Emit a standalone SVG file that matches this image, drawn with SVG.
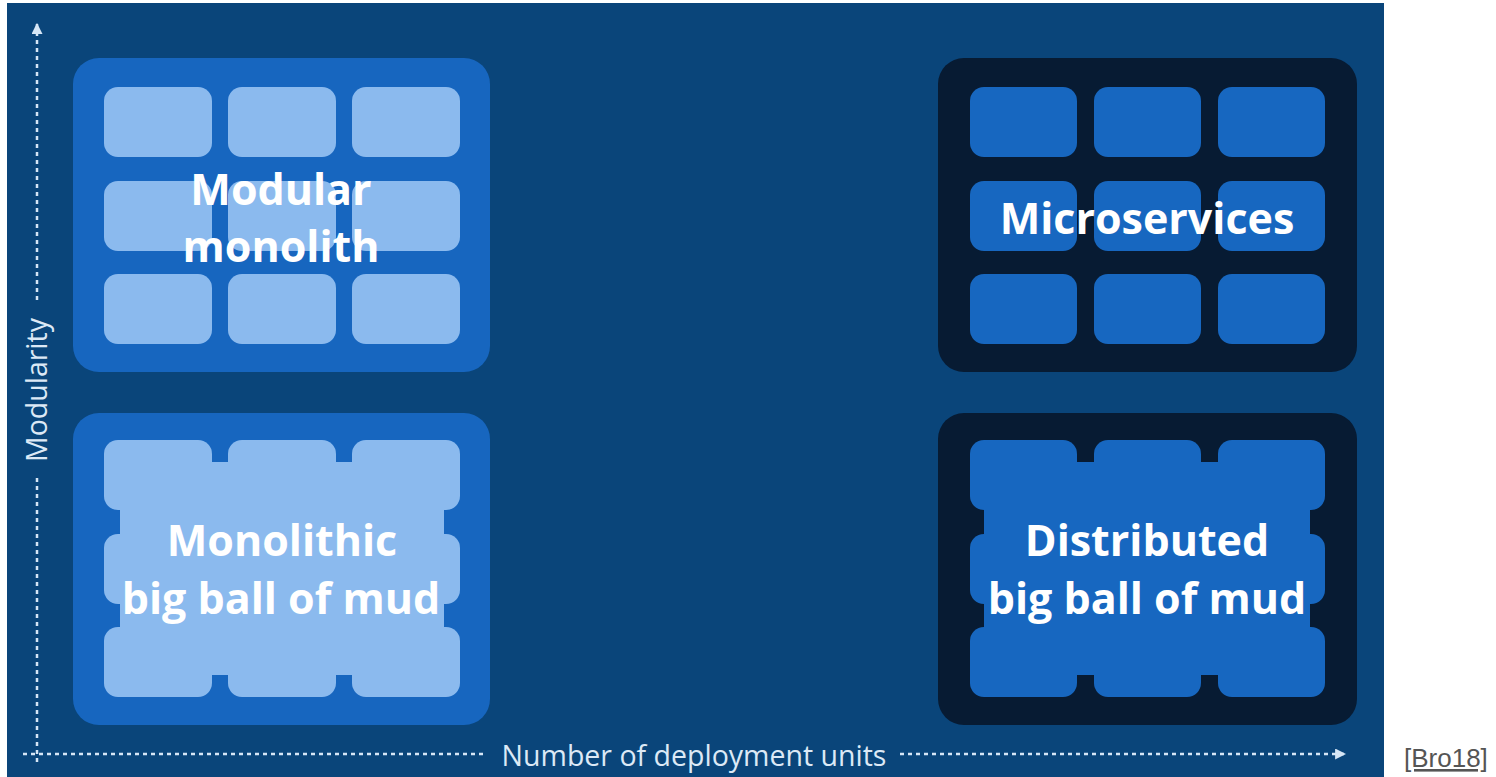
<svg xmlns="http://www.w3.org/2000/svg" width="1496" height="777" viewBox="0 0 1496 777">
  <defs>
    <style>
      .panel-light { fill: #1766bf; }
      .panel-dark { fill: #071b33; }
      .tile-light { fill: #8bbaee; }
      .tile-dark { fill: #1767c0; }
      .label { font-family: "Open Sans", "Liberation Sans", sans-serif; font-weight: 700; font-size: 43px; fill: #ffffff; text-anchor: middle; }
      .axis { stroke: #d6e6f6; stroke-width: 2.5; stroke-dasharray: 4 4; fill: none; }
      .axis-label { font-family: "Open Sans", "Liberation Sans", sans-serif; font-size: 28.5px; fill: #dce9f6; text-anchor: middle; }
      .cite { font-family: "Liberation Sans", Arial, sans-serif; font-size: 26px; fill: #555555; text-decoration: underline; }
    </style>
    <marker id="arrow" viewBox="0 0 10 10" refX="9" refY="5" markerWidth="4.4" markerHeight="4.4" orient="auto" markerUnits="strokeWidth">
      <path d="M0,0 L10,5 L0,10 Z" fill="#d6e6f6"/>
    </marker>
  </defs>

  <!-- background plate -->
  <rect x="7" y="3" width="1377" height="774" fill="#0a457a"/>

  <!-- top-left: modular monolith -->
  <g id="modular-monolith">
    <rect class="panel-light" x="73" y="58" width="417" height="314" rx="26"/>
    <rect class="tile-light" x="104" y="87" width="108" height="70" rx="14"/>
    <rect class="tile-light" x="228" y="87" width="108" height="70" rx="14"/>
    <rect class="tile-light" x="352" y="87" width="108" height="70" rx="14"/>
    <rect class="tile-light" x="104" y="181" width="108" height="70" rx="14"/>
    <rect class="tile-light" x="228" y="181" width="108" height="70" rx="14"/>
    <rect class="tile-light" x="352" y="181" width="108" height="70" rx="14"/>
    <rect class="tile-light" x="104" y="274" width="108" height="70" rx="14"/>
    <rect class="tile-light" x="228" y="274" width="108" height="70" rx="14"/>
    <rect class="tile-light" x="352" y="274" width="108" height="70" rx="14"/>
    <text class="label" x="281" y="205">Modular</text>
    <text class="label" x="281" y="262">monolith</text>
  </g>

  <!-- top-right: microservices -->
  <g id="microservices">
    <rect class="panel-dark" x="938" y="58" width="419" height="314" rx="26"/>
    <rect class="tile-dark" x="970" y="87" width="107" height="70" rx="14"/>
    <rect class="tile-dark" x="1094" y="87" width="107" height="70" rx="14"/>
    <rect class="tile-dark" x="1218" y="87" width="107" height="70" rx="14"/>
    <rect class="tile-dark" x="970" y="181" width="107" height="70" rx="14"/>
    <rect class="tile-dark" x="1094" y="181" width="107" height="70" rx="14"/>
    <rect class="tile-dark" x="1218" y="181" width="107" height="70" rx="14"/>
    <rect class="tile-dark" x="970" y="274" width="107" height="70" rx="14"/>
    <rect class="tile-dark" x="1094" y="274" width="107" height="70" rx="14"/>
    <rect class="tile-dark" x="1218" y="274" width="107" height="70" rx="14"/>
    <text class="label" x="1147" y="234">Microservices</text>
  </g>

  <!-- bottom-left: monolithic big ball of mud -->
  <g id="monolithic-mud">
    <rect class="panel-light" x="73" y="413" width="417" height="312" rx="26"/>
    <rect class="tile-light" x="104" y="440" width="108" height="70" rx="14"/>
    <rect class="tile-light" x="228" y="440" width="108" height="70" rx="14"/>
    <rect class="tile-light" x="352" y="440" width="108" height="70" rx="14"/>
    <rect class="tile-light" x="104" y="534" width="108" height="70" rx="14"/>
    <rect class="tile-light" x="228" y="534" width="108" height="70" rx="14"/>
    <rect class="tile-light" x="352" y="534" width="108" height="70" rx="14"/>
    <rect class="tile-light" x="104" y="627" width="108" height="70" rx="14"/>
    <rect class="tile-light" x="228" y="627" width="108" height="70" rx="14"/>
    <rect class="tile-light" x="352" y="627" width="108" height="70" rx="14"/>
    <rect class="tile-light" x="120" y="462" width="324" height="213"/>
    <text class="label" x="282" y="556">Monolithic</text>
    <text class="label" x="281" y="614">big ball of mud</text>
  </g>

  <!-- bottom-right: distributed big ball of mud -->
  <g id="distributed-mud">
    <rect class="panel-dark" x="938" y="413" width="419" height="312" rx="26"/>
    <rect class="tile-dark" x="970" y="440" width="107" height="70" rx="14"/>
    <rect class="tile-dark" x="1094" y="440" width="107" height="70" rx="14"/>
    <rect class="tile-dark" x="1218" y="440" width="107" height="70" rx="14"/>
    <rect class="tile-dark" x="970" y="534" width="107" height="70" rx="14"/>
    <rect class="tile-dark" x="1094" y="534" width="107" height="70" rx="14"/>
    <rect class="tile-dark" x="1218" y="534" width="107" height="70" rx="14"/>
    <rect class="tile-dark" x="970" y="627" width="107" height="70" rx="14"/>
    <rect class="tile-dark" x="1094" y="627" width="107" height="70" rx="14"/>
    <rect class="tile-dark" x="1218" y="627" width="107" height="70" rx="14"/>
    <rect class="tile-dark" x="984" y="462" width="326" height="213"/>
    <text class="label" x="1147" y="556">Distributed</text>
    <text class="label" x="1147" y="614">big ball of mud</text>
  </g>

  <!-- axes -->
  <g id="connectors">
    <line class="axis" x1="37" y1="762" x2="37" y2="478"/>
    <line class="axis" x1="37" y1="300" x2="37" y2="24" marker-end="url(#arrow)"/>
    <line class="axis" x1="23" y1="754" x2="486" y2="754"/>
    <line class="axis" x1="900" y1="754" x2="1345" y2="754" marker-end="url(#arrow)"/>
    <text class="axis-label" x="37" y="390" transform="rotate(-90 37 390)" dy="10">Modularity</text>
    <text class="axis-label" x="694" y="766">Number of deployment units</text>
  </g>

  <text class="cite" x="1404" y="767">[Bro18]</text>
</svg>
